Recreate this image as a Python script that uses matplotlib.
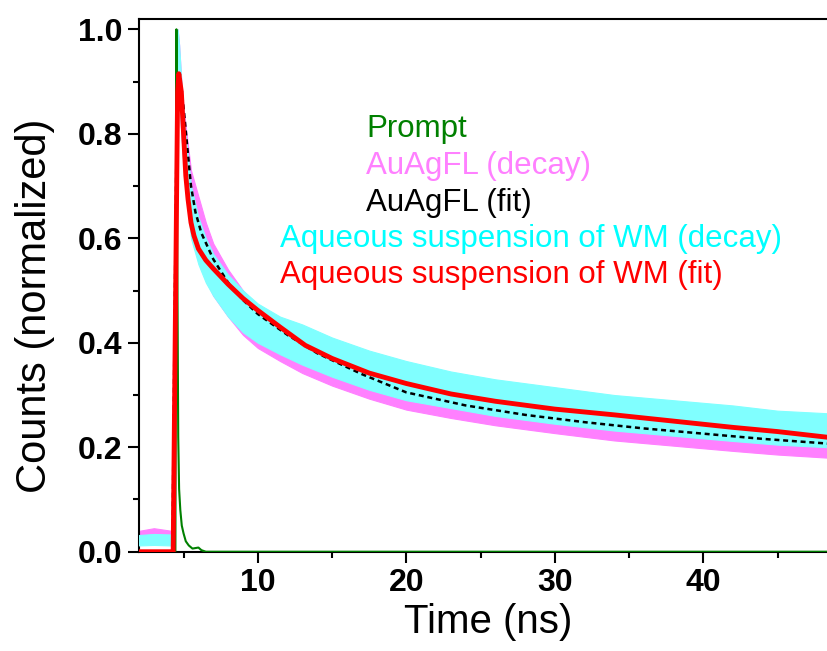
import matplotlib
matplotlib.use('Agg')
import matplotlib.pyplot as plt
from matplotlib.ticker import MultipleLocator

plt.rcParams['font.family'] = ['Liberation Sans', 'DejaVu Sans']

# prompt (instrument response)
t_prompt = [2.0, 4.45, 4.52, 4.58, 4.64, 4.70, 4.78, 4.88, 5.0, 5.15, 5.35, 5.6, 6.0, 6.2, 6.5, 48.4]
y_prompt = [0.0, 0.0, 1.0, 0.55, 0.22, 0.12, 0.08, 0.05, 0.035, 0.02, 0.012, 0.006, 0.008, 0.003, 0.0, 0.0]

# measured decays, read as lower / upper edge of the noise band
t_decay = [2.0, 3.0, 4.2, 4.35, 4.5, 4.6, 4.7, 4.85, 5.0, 5.2, 5.5, 6.0, 6.5, 7, 8, 9, 10,
           11.5, 13, 15, 17.5, 20, 23, 26, 30, 34, 38, 42, 45, 48.4]
auag_lo = [0.018, 0.02, 0.018, 0.2, 0.75, 0.95, 0.88, 0.8, 0.74, 0.68, 0.61, 0.56, 0.52, 0.49, 0.45, 0.415, 0.39,
           0.365, 0.342, 0.318, 0.293, 0.272, 0.256, 0.242, 0.227, 0.213, 0.203, 0.193, 0.186, 0.18]
auag_hi = [0.04, 0.045, 0.04, 0.35, 0.95, 1.0, 0.97, 0.9, 0.85, 0.8, 0.73, 0.68, 0.63, 0.59, 0.54, 0.5, 0.47,
           0.44, 0.42, 0.39, 0.36, 0.335, 0.315, 0.3, 0.285, 0.27, 0.26, 0.25, 0.245, 0.24]
wm_lo = [0.012, 0.013, 0.012, 0.2, 0.75, 0.95, 0.88, 0.8, 0.74, 0.68, 0.6, 0.55, 0.515, 0.49, 0.45, 0.42, 0.4,
         0.378, 0.358, 0.335, 0.31, 0.29, 0.275, 0.26, 0.245, 0.232, 0.222, 0.212, 0.205, 0.2]
wm_hi = [0.032, 0.034, 0.033, 0.35, 0.95, 1.0, 0.97, 0.9, 0.84, 0.78, 0.7, 0.64, 0.6, 0.57, 0.53, 0.5, 0.475,
         0.45, 0.435, 0.41, 0.385, 0.365, 0.345, 0.33, 0.315, 0.3, 0.29, 0.28, 0.27, 0.265]

# fits
t_fit_auag = [2.0, 4.25, 4.4, 4.55, 4.72, 4.85, 5.0, 5.2, 5.5, 5.8, 6.2, 7, 8, 9, 10, 12, 14, 17, 20,
              24, 28, 32, 36, 40, 44, 48.4]
y_fit_auag = [0.0, 0.0, 0.45, 0.85, 0.915, 0.89, 0.85, 0.79, 0.70, 0.65, 0.61, 0.56, 0.515, 0.482, 0.455,
              0.415, 0.38, 0.34, 0.305, 0.28, 0.262, 0.248, 0.236, 0.226, 0.216, 0.207]
t_fit_wm = [2.0, 4.3, 4.45, 4.6, 4.68, 4.85, 5.0, 5.15, 5.3, 5.5, 5.7, 6.0, 6.5, 7.0, 8.0, 9.0, 10,
            11.5, 13.2, 15, 17.5, 20, 23, 26, 30, 34, 38, 42, 45, 48.4]
y_fit_wm = [0.0, 0.0, 0.45, 0.88, 0.915, 0.88, 0.80, 0.72, 0.675, 0.63, 0.605, 0.58, 0.558, 0.542, 0.512,
            0.485, 0.462, 0.43, 0.395, 0.37, 0.342, 0.322, 0.302, 0.288, 0.273, 0.262, 0.25, 0.238, 0.23, 0.219]

labels = ["Prompt", "AuAgFL (decay)", "AuAgFL (fit)",
          "Aqueous suspension of WM (decay)", "Aqueous suspension of WM (fit)"]
colors = ["#008000", "#ff80ff", "#000000", "#00ffff", "#ff0000"]

fig = plt.figure(figsize=(8.28, 6.51), dpi=100)
ax = fig.add_axes([0.1679, 0.1525, 0.8321, 0.8183])

ax.fill_between(t_decay, auag_lo, auag_hi, color="#ff80ff", lw=0.8, zorder=2)
ax.fill_between(t_decay, wm_lo, wm_hi, color="#80ffff", lw=0.8, zorder=3)
ax.plot(t_fit_auag, y_fit_auag, color="black", lw=1.8, ls=(0, (2, 1.5)), zorder=4)
ax.plot(t_prompt, y_prompt, color="#008000", lw=1.5, zorder=5)
ax.plot(t_fit_wm, y_fit_wm, color="#ff0000", lw=3.5, zorder=6, solid_joinstyle='round')

ax.set_xlim(2.0, 48.4)
ax.set_ylim(0, 1.0197)
ax.xaxis.set_major_locator(MultipleLocator(10))
ax.xaxis.set_minor_locator(MultipleLocator(5))
ax.yaxis.set_major_locator(MultipleLocator(0.2))
ax.yaxis.set_minor_locator(MultipleLocator(0.1))
ax.yaxis.set_major_formatter(plt.FuncFormatter(lambda v, p: "%.1f" % v))

ax.tick_params(which='major', direction='out', length=8, width=1.5, labelsize=23, pad=4)
ax.tick_params(which='minor', direction='out', length=4, width=1.5)
for lab in ax.get_xticklabels() + ax.get_yticklabels():
    lab.set_fontweight('bold')
ax.spines['right'].set_visible(False)
for s in ['left', 'bottom', 'top']:
    ax.spines[s].set_linewidth(1.5)

ax.set_xlabel("Time (ns)", fontsize=29)
ax.xaxis.set_label_coords(0.5065, -0.0963)
ax.set_ylabel("Counts (normalized)", fontsize=30)
ax.yaxis.set_label_coords(-0.122, 0.461)

# labels written as coloured text, like the original
text_x = [17.3, 17.3, 17.3, 11.5, 11.5]
text_y = [0.794, 0.723, 0.653, 0.584, 0.514]
for lab, c, tx, ty in zip(labels, colors, text_x, text_y):
    ax.text(tx, ty, lab, color=c, fontsize=22.5, ha='left', va='baseline', zorder=7)

fig.savefig("out.png", dpi=100)
